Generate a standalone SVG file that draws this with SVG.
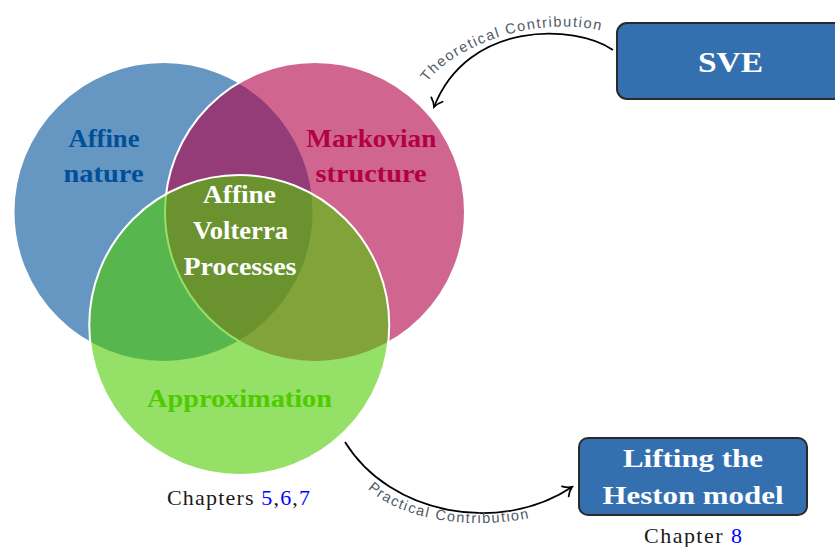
<svg xmlns="http://www.w3.org/2000/svg" width="835" height="547" viewBox="0 0 835 547">
  <style>
    .circ { stroke: #ffffff; stroke-width: 2; fill-opacity: 0.6; }
    .vt { font-family: "Liberation Serif", serif; font-weight: bold; font-size: 25px; text-anchor: middle; }
    .box { fill: #3470b0; stroke: #2a2a2a; stroke-width: 2; }
    .bt { font-family: "Liberation Serif", serif; font-weight: bold; fill: #ffffff; text-anchor: middle; }
    .ch { font-family: "Liberation Serif", serif; font-size: 22px; fill: #1a1a1a; text-anchor: middle; }
    .ref { fill: #0000ff; }
    .conn { fill: none; stroke: #000000; stroke-width: 1.7; }
    .lab { font-family: "Liberation Sans", sans-serif; font-size: 14.5px; fill: #505a66; letter-spacing: 1.5px; }
  </style>
  <defs>
    <marker id="to" markerUnits="userSpaceOnUse" orient="auto" refX="0" refY="0" markerWidth="20" markerHeight="20" viewBox="-10 -10 20 20" overflow="visible">
      <path d="M -8,-6 C -5,-2.6 -2,-0.8 0,0 C -2,0.8 -5,2.6 -8,6" fill="none" stroke="#000000" stroke-width="1.8" stroke-linecap="round"/>
    </marker>
    <path id="tp1" d="M425,86 C445,50 535,12 606,32"/>
    <path id="tp2" d="M368,489 C395,515 460,532 530,518"/>
  </defs>

  <g id="venn">
    <g id="affine-nature">
      <circle class="circ" cx="163.5" cy="212" r="150" fill="#005099"/>
    </g>
    <g id="markovian-structure">
      <circle class="circ" cx="315" cy="212" r="150" fill="#b10044"/>
    </g>
    <g id="approximation">
      <circle class="circ" cx="239.25" cy="325" r="150" fill="#4ecb00"/>
    </g>
    <g id="venn-labels">
      <text class="vt" fill="#005099" x="104" y="147" textLength="71" lengthAdjust="spacingAndGlyphs">Affine</text>
      <text class="vt" fill="#005099" x="103.5" y="182" textLength="80" lengthAdjust="spacingAndGlyphs">nature</text>
      <text class="vt" fill="#b10044" x="371.3" y="147" textLength="130" lengthAdjust="spacingAndGlyphs">Markovian</text>
      <text class="vt" fill="#b10044" x="371" y="182" textLength="111" lengthAdjust="spacingAndGlyphs">structure</text>
      <text class="vt" fill="#ffffff" x="239.5" y="203" textLength="73" lengthAdjust="spacingAndGlyphs">Affine</text>
      <text class="vt" fill="#ffffff" x="240.5" y="238.5" textLength="95" lengthAdjust="spacingAndGlyphs">Volterra</text>
      <text class="vt" fill="#ffffff" x="240" y="275" textLength="113" lengthAdjust="spacingAndGlyphs">Processes</text>
      <text class="vt" fill="#4ecb00" x="239.5" y="407" textLength="185" lengthAdjust="spacingAndGlyphs">Approximation</text>
    </g>
    <text class="ch" x="238.5" y="505" textLength="143" lengthAdjust="spacing">Chapters <tspan class="ref">5</tspan>,<tspan class="ref">6</tspan>,<tspan class="ref">7</tspan></text>
  </g>

  <g id="sve">
    <rect class="box" x="617" y="23" width="240" height="76" rx="10" ry="10"/>
    <text class="bt" x="730.5" y="72" font-size="30" textLength="65" lengthAdjust="spacingAndGlyphs">SVE</text>
  </g>

  <g id="lifting">
    <rect class="box" x="579" y="438" width="228" height="77" rx="9" ry="9"/>
    <text class="bt" x="693" y="467" font-size="26" textLength="140" lengthAdjust="spacingAndGlyphs">Lifting the</text>
    <text class="bt" x="693" y="504" font-size="26" textLength="181" lengthAdjust="spacingAndGlyphs">Heston model</text>
    <text class="ch" x="693" y="542.5" textLength="98" lengthAdjust="spacing">Chapter <tspan class="ref">8</tspan></text>
  </g>

  <g id="connectors">
    <path class="conn" d="M613,50 C575,24 468,20 434,107" marker-end="url(#to)"/>
    <text class="lab"><textPath href="#tp1" startOffset="50%" text-anchor="middle">Theoretical Contribution</textPath></text>
    <path class="conn" d="M345,442 C390,515 500,535 572,487" marker-end="url(#to)"/>
    <text class="lab"><textPath href="#tp2" startOffset="50%" text-anchor="middle">Practical Contribution</textPath></text>
  </g>
</svg>
